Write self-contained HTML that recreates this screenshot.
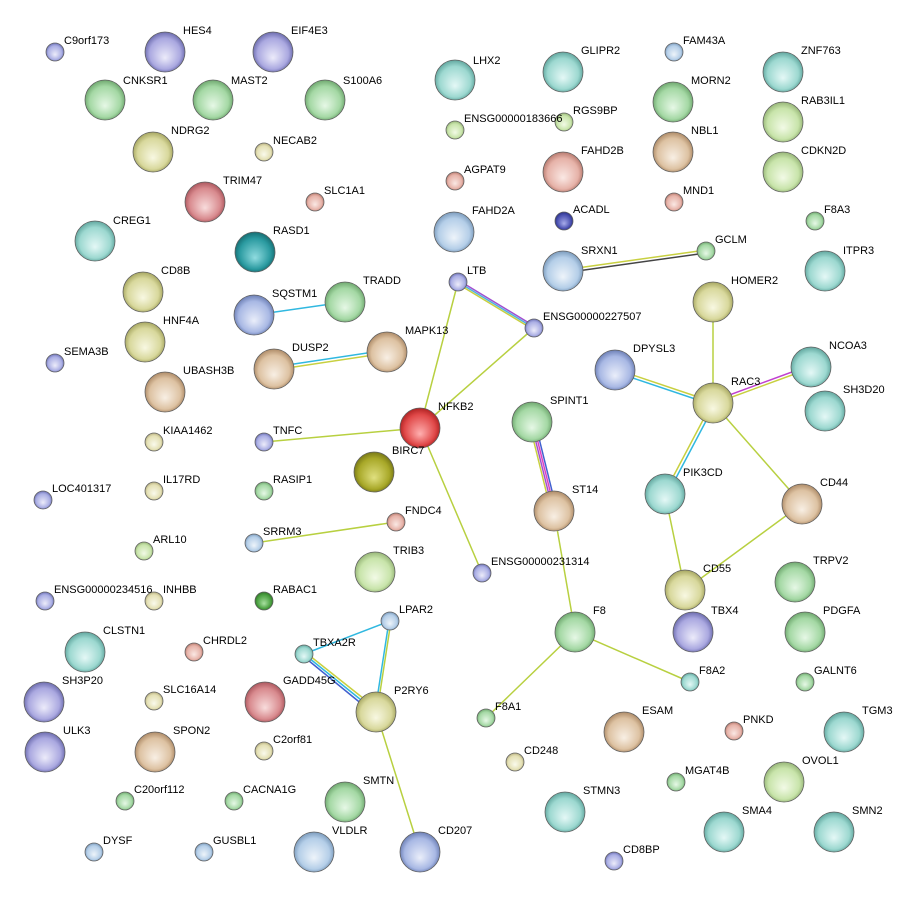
<!DOCTYPE html>
<html><head><meta charset="utf-8"><style>
html,body{margin:0;padding:0;background:#fff;width:914px;height:907px;overflow:hidden}
svg text{font-family:"Liberation Sans",sans-serif;font-size:11px;fill:#000}
</style></head><body>
<svg width="914" height="907" viewBox="0 0 914 907" xmlns="http://www.w3.org/2000/svg">
<defs>
<radialGradient id="gr" fx="0.5" fy="0.65" r="0.55"><stop offset="0" stop-color="#e6f8e6"/><stop offset="0.7" stop-color="#a4d8a4"/><stop offset="1" stop-color="#5f9a5f"/></radialGradient>
<radialGradient id="te" fx="0.5" fy="0.65" r="0.55"><stop offset="0" stop-color="#e4f8f6"/><stop offset="0.7" stop-color="#9cd8d0"/><stop offset="1" stop-color="#4f9890"/></radialGradient>
<radialGradient id="bl" fx="0.5" fy="0.65" r="0.55"><stop offset="0" stop-color="#eaeefa"/><stop offset="0.7" stop-color="#a8b8e4"/><stop offset="1" stop-color="#5a6ea8"/></radialGradient>
<radialGradient id="pu" fx="0.5" fy="0.65" r="0.55"><stop offset="0" stop-color="#ecebfa"/><stop offset="0.7" stop-color="#aaa8e0"/><stop offset="1" stop-color="#5a5aa0"/></radialGradient>
<radialGradient id="ol" fx="0.5" fy="0.65" r="0.55"><stop offset="0" stop-color="#f8f8e2"/><stop offset="0.7" stop-color="#d8d89c"/><stop offset="1" stop-color="#98984f"/></radialGradient>
<radialGradient id="ta" fx="0.5" fy="0.65" r="0.55"><stop offset="0" stop-color="#f8efe4"/><stop offset="0.7" stop-color="#ddc2a2"/><stop offset="1" stop-color="#a07a55"/></radialGradient>
<radialGradient id="sa" fx="0.5" fy="0.65" r="0.55"><stop offset="0" stop-color="#fae8e4"/><stop offset="0.7" stop-color="#e6b2a8"/><stop offset="1" stop-color="#aa6a5e"/></radialGradient>
<radialGradient id="re" fx="0.5" fy="0.65" r="0.55"><stop offset="0" stop-color="#ffb0b0"/><stop offset="0.7" stop-color="#e04848"/><stop offset="1" stop-color="#a01818"/></radialGradient>
<radialGradient id="rs" fx="0.5" fy="0.65" r="0.55"><stop offset="0" stop-color="#f8dcdc"/><stop offset="0.7" stop-color="#d88a8e"/><stop offset="1" stop-color="#a04850"/></radialGradient>
<radialGradient id="lg" fx="0.5" fy="0.65" r="0.55"><stop offset="0" stop-color="#f2fae6"/><stop offset="0.7" stop-color="#c8e4aa"/><stop offset="1" stop-color="#88a868"/></radialGradient>
<radialGradient id="ye" fx="0.5" fy="0.65" r="0.55"><stop offset="0" stop-color="#fafaec"/><stop offset="0.7" stop-color="#e4e0b4"/><stop offset="1" stop-color="#a8a070"/></radialGradient>
<radialGradient id="sb" fx="0.5" fy="0.65" r="0.55"><stop offset="0" stop-color="#ececfa"/><stop offset="0.7" stop-color="#aaaee4"/><stop offset="1" stop-color="#5a5ea8"/></radialGradient>
<radialGradient id="lb" fx="0.5" fy="0.65" r="0.55"><stop offset="0" stop-color="#eef4fa"/><stop offset="0.7" stop-color="#b4cee8"/><stop offset="1" stop-color="#6a8cb0"/></radialGradient>
<radialGradient id="dg" fx="0.5" fy="0.65" r="0.55"><stop offset="0" stop-color="#a8e0a0"/><stop offset="0.7" stop-color="#4aa040"/><stop offset="1" stop-color="#2a6a22"/></radialGradient>
<radialGradient id="nv" fx="0.5" fy="0.65" r="0.55"><stop offset="0" stop-color="#a8acea"/><stop offset="0.7" stop-color="#4a50b0"/><stop offset="1" stop-color="#22287a"/></radialGradient>
<radialGradient id="bo" fx="0.5" fy="0.65" r="0.55"><stop offset="0" stop-color="#e0e080"/><stop offset="0.7" stop-color="#a8a828"/><stop offset="1" stop-color="#6a6a10"/></radialGradient>
<radialGradient id="dt" fx="0.5" fy="0.65" r="0.55"><stop offset="0" stop-color="#90dce0"/><stop offset="0.7" stop-color="#2a9aa0"/><stop offset="1" stop-color="#106064"/></radialGradient>
</defs>
<g fill="none" stroke-width="1.5">
<line x1="563" y1="270" x2="706" y2="250" stroke="#c8d040"/><line x1="563" y1="273" x2="706" y2="253" stroke="#444"/>
<line x1="458" y1="280" x2="534" y2="326" stroke="#a050d0"/><line x1="458" y1="282" x2="534" y2="328" stroke="#50b0e0"/><line x1="458" y1="284" x2="534" y2="330" stroke="#c8d040"/>
<line x1="458" y1="282" x2="420" y2="428" stroke="#b8d040"/>
<line x1="534" y1="328" x2="420" y2="428" stroke="#b8d040"/>
<line x1="254" y1="315" x2="345" y2="302" stroke="#30b8e0"/>
<line x1="274" y1="367" x2="387" y2="350" stroke="#30b8e0"/><line x1="274" y1="370" x2="387" y2="353" stroke="#c8d040"/>
<line x1="264" y1="442" x2="420" y2="428" stroke="#b8d040"/>
<line x1="420" y1="428" x2="482" y2="573" stroke="#b8d040"/>
<line x1="529" y1="422" x2="551" y2="511" stroke="#c8d040"/><line x1="531" y1="422" x2="553" y2="511" stroke="#a050d0"/><line x1="533" y1="422" x2="555" y2="511" stroke="#e040c0"/><line x1="535" y1="422" x2="557" y2="511" stroke="#4060d0"/>
<line x1="554" y1="511" x2="575" y2="632" stroke="#b8d040"/>
<line x1="575" y1="632" x2="486" y2="718" stroke="#b8d040"/>
<line x1="575" y1="632" x2="690" y2="682" stroke="#b8d040"/>
<line x1="713" y1="302" x2="713" y2="403" stroke="#b8d040"/>
<line x1="615" y1="369" x2="713" y2="402" stroke="#c8d040"/><line x1="615" y1="372" x2="713" y2="405" stroke="#30b8e0"/>
<line x1="811" y1="365" x2="713" y2="401" stroke="#c040d0"/><line x1="811" y1="368" x2="713" y2="404" stroke="#c8d040"/>
<line x1="712" y1="403" x2="664" y2="494" stroke="#c8d040"/><line x1="715" y1="404" x2="667" y2="495" stroke="#30b8e0"/>
<line x1="713" y1="403" x2="802" y2="504" stroke="#b8d040"/>
<line x1="665" y1="494" x2="685" y2="590" stroke="#b8d040"/>
<line x1="802" y1="504" x2="685" y2="590" stroke="#b8d040"/>
<line x1="254" y1="543" x2="396" y2="522" stroke="#b8d040"/>
<line x1="390" y1="621" x2="304" y2="654" stroke="#30b8e0"/>
<line x1="389" y1="621" x2="375" y2="712" stroke="#30b8e0"/><line x1="391" y1="621" x2="377" y2="712" stroke="#b8d040"/>
<line x1="305" y1="652" x2="378" y2="710" stroke="#c8d040"/><line x1="304" y1="654" x2="376" y2="712" stroke="#30b8e0"/><line x1="303" y1="656" x2="374" y2="714" stroke="#4060d0"/>
<line x1="376" y1="712" x2="420" y2="852" stroke="#b8d040"/>
</g>
<g stroke="#606060" stroke-width="0.8">
<circle cx="55" cy="52" r="9" fill="url(#sb)"/>
<circle cx="165" cy="52" r="20" fill="url(#pu)"/>
<circle cx="273" cy="52" r="20" fill="url(#pu)"/>
<circle cx="105" cy="100" r="20" fill="url(#gr)"/>
<circle cx="213" cy="100" r="20" fill="url(#gr)"/>
<circle cx="325" cy="100" r="20" fill="url(#gr)"/>
<circle cx="455" cy="80" r="20" fill="url(#te)"/>
<circle cx="563" cy="72" r="20" fill="url(#te)"/>
<circle cx="674" cy="52" r="9" fill="url(#lb)"/>
<circle cx="783" cy="72" r="20" fill="url(#te)"/>
<circle cx="673" cy="102" r="20" fill="url(#gr)"/>
<circle cx="783" cy="122" r="20" fill="url(#lg)"/>
<circle cx="564" cy="122" r="9" fill="url(#lg)"/>
<circle cx="455" cy="130" r="9" fill="url(#lg)"/>
<circle cx="153" cy="152" r="20" fill="url(#ol)"/>
<circle cx="264" cy="152" r="9" fill="url(#ye)"/>
<circle cx="673" cy="152" r="20" fill="url(#ta)"/>
<circle cx="783" cy="172" r="20" fill="url(#lg)"/>
<circle cx="563" cy="172" r="20" fill="url(#sa)"/>
<circle cx="455" cy="181" r="9" fill="url(#sa)"/>
<circle cx="205" cy="202" r="20" fill="url(#rs)"/>
<circle cx="315" cy="202" r="9" fill="url(#sa)"/>
<circle cx="674" cy="202" r="9" fill="url(#sa)"/>
<circle cx="564" cy="221" r="9" fill="url(#nv)"/>
<circle cx="454" cy="232" r="20" fill="url(#lb)"/>
<circle cx="815" cy="221" r="9" fill="url(#gr)"/>
<circle cx="95" cy="241" r="20" fill="url(#te)"/>
<circle cx="255" cy="252" r="20" fill="url(#dt)"/>
<circle cx="563" cy="271" r="20" fill="url(#lb)"/>
<circle cx="706" cy="251" r="9" fill="url(#gr)"/>
<circle cx="825" cy="271" r="20" fill="url(#te)"/>
<circle cx="143" cy="292" r="20" fill="url(#ol)"/>
<circle cx="458" cy="282" r="9" fill="url(#sb)"/>
<circle cx="345" cy="302" r="20" fill="url(#gr)"/>
<circle cx="254" cy="315" r="20" fill="url(#bl)"/>
<circle cx="713" cy="302" r="20" fill="url(#ol)"/>
<circle cx="534" cy="328" r="9" fill="url(#sb)"/>
<circle cx="145" cy="342" r="20" fill="url(#ol)"/>
<circle cx="387" cy="352" r="20" fill="url(#ta)"/>
<circle cx="811" cy="367" r="20" fill="url(#te)"/>
<circle cx="274" cy="369" r="20" fill="url(#ta)"/>
<circle cx="615" cy="370" r="20" fill="url(#bl)"/>
<circle cx="55" cy="363" r="9" fill="url(#sb)"/>
<circle cx="165" cy="392" r="20" fill="url(#ta)"/>
<circle cx="713" cy="403" r="20" fill="url(#ol)"/>
<circle cx="825" cy="411" r="20" fill="url(#te)"/>
<circle cx="420" cy="428" r="20" fill="url(#re)"/>
<circle cx="532" cy="422" r="20" fill="url(#gr)"/>
<circle cx="154" cy="442" r="9" fill="url(#ye)"/>
<circle cx="264" cy="442" r="9" fill="url(#sb)"/>
<circle cx="374" cy="472" r="20" fill="url(#bo)"/>
<circle cx="665" cy="494" r="20" fill="url(#te)"/>
<circle cx="154" cy="491" r="9" fill="url(#ye)"/>
<circle cx="264" cy="491" r="9" fill="url(#gr)"/>
<circle cx="43" cy="500" r="9" fill="url(#sb)"/>
<circle cx="802" cy="504" r="20" fill="url(#ta)"/>
<circle cx="554" cy="511" r="20" fill="url(#ta)"/>
<circle cx="396" cy="522" r="9" fill="url(#sa)"/>
<circle cx="254" cy="543" r="9" fill="url(#lb)"/>
<circle cx="144" cy="551" r="9" fill="url(#lg)"/>
<circle cx="482" cy="573" r="9" fill="url(#sb)"/>
<circle cx="375" cy="572" r="20" fill="url(#lg)"/>
<circle cx="685" cy="590" r="20" fill="url(#ol)"/>
<circle cx="795" cy="582" r="20" fill="url(#gr)"/>
<circle cx="45" cy="601" r="9" fill="url(#sb)"/>
<circle cx="154" cy="601" r="9" fill="url(#ye)"/>
<circle cx="264" cy="601" r="9" fill="url(#dg)"/>
<circle cx="390" cy="621" r="9" fill="url(#lb)"/>
<circle cx="693" cy="632" r="20" fill="url(#pu)"/>
<circle cx="805" cy="632" r="20" fill="url(#gr)"/>
<circle cx="575" cy="632" r="20" fill="url(#gr)"/>
<circle cx="85" cy="652" r="20" fill="url(#te)"/>
<circle cx="194" cy="652" r="9" fill="url(#sa)"/>
<circle cx="304" cy="654" r="9" fill="url(#te)"/>
<circle cx="690" cy="682" r="9" fill="url(#te)"/>
<circle cx="805" cy="682" r="9" fill="url(#gr)"/>
<circle cx="265" cy="702" r="20" fill="url(#rs)"/>
<circle cx="376" cy="712" r="20" fill="url(#ol)"/>
<circle cx="44" cy="702" r="20" fill="url(#pu)"/>
<circle cx="154" cy="701" r="9" fill="url(#ye)"/>
<circle cx="486" cy="718" r="9" fill="url(#gr)"/>
<circle cx="624" cy="732" r="20" fill="url(#ta)"/>
<circle cx="734" cy="731" r="9" fill="url(#sa)"/>
<circle cx="844" cy="732" r="20" fill="url(#te)"/>
<circle cx="45" cy="752" r="20" fill="url(#pu)"/>
<circle cx="155" cy="752" r="20" fill="url(#ta)"/>
<circle cx="264" cy="751" r="9" fill="url(#ye)"/>
<circle cx="515" cy="762" r="9" fill="url(#ye)"/>
<circle cx="676" cy="782" r="9" fill="url(#gr)"/>
<circle cx="784" cy="782" r="20" fill="url(#lg)"/>
<circle cx="125" cy="801" r="9" fill="url(#gr)"/>
<circle cx="234" cy="801" r="9" fill="url(#gr)"/>
<circle cx="345" cy="802" r="20" fill="url(#gr)"/>
<circle cx="565" cy="812" r="20" fill="url(#te)"/>
<circle cx="724" cy="832" r="20" fill="url(#te)"/>
<circle cx="834" cy="832" r="20" fill="url(#te)"/>
<circle cx="314" cy="852" r="20" fill="url(#lb)"/>
<circle cx="420" cy="852" r="20" fill="url(#bl)"/>
<circle cx="614" cy="861" r="9" fill="url(#sb)"/>
<circle cx="94" cy="852" r="9" fill="url(#lb)"/>
<circle cx="204" cy="852" r="9" fill="url(#lb)"/>
</g>
<g>
<text x="64" y="44">C9orf173</text>
<text x="183" y="34">HES4</text>
<text x="291" y="34">EIF4E3</text>
<text x="123" y="84">CNKSR1</text>
<text x="231" y="84">MAST2</text>
<text x="343" y="84">S100A6</text>
<text x="473" y="64">LHX2</text>
<text x="581" y="54">GLIPR2</text>
<text x="683" y="44">FAM43A</text>
<text x="801" y="54">ZNF763</text>
<text x="691" y="84">MORN2</text>
<text x="801" y="104">RAB3IL1</text>
<text x="573" y="114">RGS9BP</text>
<text x="464" y="122">ENSG00000183666</text>
<text x="171" y="134">NDRG2</text>
<text x="273" y="144">NECAB2</text>
<text x="691" y="134">NBL1</text>
<text x="801" y="154">CDKN2D</text>
<text x="581" y="154">FAHD2B</text>
<text x="464" y="173">AGPAT9</text>
<text x="223" y="184">TRIM47</text>
<text x="324" y="194">SLC1A1</text>
<text x="683" y="194">MND1</text>
<text x="573" y="213">ACADL</text>
<text x="472" y="214">FAHD2A</text>
<text x="824" y="213">F8A3</text>
<text x="113" y="224">CREG1</text>
<text x="273" y="234">RASD1</text>
<text x="581" y="254">SRXN1</text>
<text x="715" y="243">GCLM</text>
<text x="843" y="254">ITPR3</text>
<text x="161" y="274">CD8B</text>
<text x="467" y="274">LTB</text>
<text x="363" y="284">TRADD</text>
<text x="272" y="297">SQSTM1</text>
<text x="731" y="284">HOMER2</text>
<text x="543" y="320">ENSG00000227507</text>
<text x="163" y="324">HNF4A</text>
<text x="405" y="334">MAPK13</text>
<text x="829" y="349">NCOA3</text>
<text x="292" y="351">DUSP2</text>
<text x="633" y="352">DPYSL3</text>
<text x="64" y="355">SEMA3B</text>
<text x="183" y="374">UBASH3B</text>
<text x="731" y="385">RAC3</text>
<text x="843" y="393">SH3D20</text>
<text x="438" y="410">NFKB2</text>
<text x="550" y="404">SPINT1</text>
<text x="163" y="434">KIAA1462</text>
<text x="273" y="434">TNFC</text>
<text x="392" y="454">BIRC7</text>
<text x="683" y="476">PIK3CD</text>
<text x="163" y="483">IL17RD</text>
<text x="273" y="483">RASIP1</text>
<text x="52" y="492">LOC401317</text>
<text x="820" y="486">CD44</text>
<text x="572" y="493">ST14</text>
<text x="405" y="514">FNDC4</text>
<text x="263" y="535">SRRM3</text>
<text x="153" y="543">ARL10</text>
<text x="491" y="565">ENSG00000231314</text>
<text x="393" y="554">TRIB3</text>
<text x="703" y="572">CD55</text>
<text x="813" y="564">TRPV2</text>
<text x="54" y="593">ENSG00000234516</text>
<text x="163" y="593">INHBB</text>
<text x="273" y="593">RABAC1</text>
<text x="399" y="613">LPAR2</text>
<text x="711" y="614">TBX4</text>
<text x="823" y="614">PDGFA</text>
<text x="593" y="614">F8</text>
<text x="103" y="634">CLSTN1</text>
<text x="203" y="644">CHRDL2</text>
<text x="313" y="646">TBXA2R</text>
<text x="699" y="674">F8A2</text>
<text x="814" y="674">GALNT6</text>
<text x="283" y="684">GADD45G</text>
<text x="394" y="694">P2RY6</text>
<text x="62" y="684">SH3P20</text>
<text x="163" y="693">SLC16A14</text>
<text x="495" y="710">F8A1</text>
<text x="642" y="714">ESAM</text>
<text x="743" y="723">PNKD</text>
<text x="862" y="714">TGM3</text>
<text x="63" y="734">ULK3</text>
<text x="173" y="734">SPON2</text>
<text x="273" y="743">C2orf81</text>
<text x="524" y="754">CD248</text>
<text x="685" y="774">MGAT4B</text>
<text x="802" y="764">OVOL1</text>
<text x="134" y="793">C20orf112</text>
<text x="243" y="793">CACNA1G</text>
<text x="363" y="784">SMTN</text>
<text x="583" y="794">STMN3</text>
<text x="742" y="814">SMA4</text>
<text x="852" y="814">SMN2</text>
<text x="332" y="834">VLDLR</text>
<text x="438" y="834">CD207</text>
<text x="623" y="853">CD8BP</text>
<text x="103" y="844">DYSF</text>
<text x="213" y="844">GUSBL1</text>
</g>
</svg>
</body></html>
